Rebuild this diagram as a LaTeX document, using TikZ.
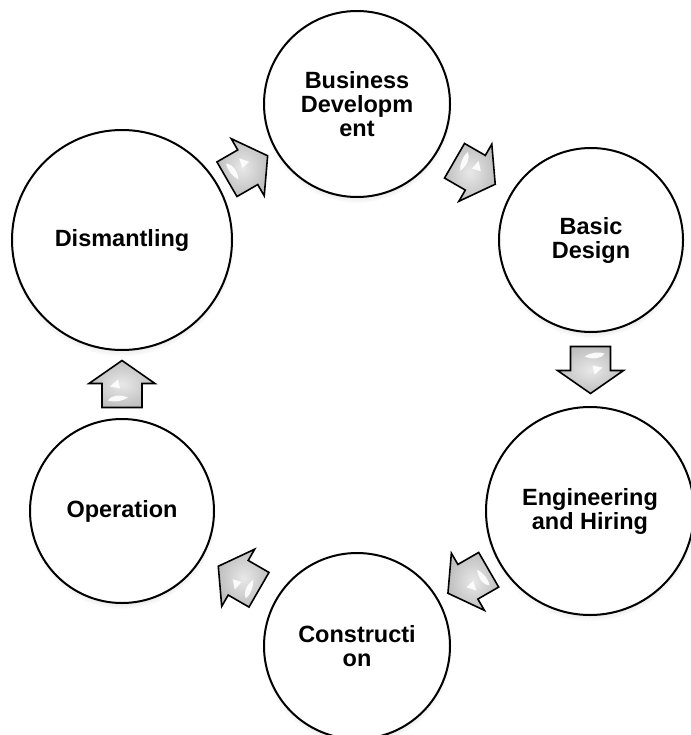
\documentclass[tikz,border=0pt]{standalone}
\usepackage{fontspec}
\setmainfont{Liberation Sans}
\usetikzlibrary{calc,shadows,fadings}
\tikzset{
  stage/.style={circle, draw=black, line width=2pt, fill=white, inner sep=0pt,
    align=center, font=\bfseries\fontsize{23.5}{24}\selectfont,
    circular drop shadow={shadow scale=1.02, shadow xshift=0pt, shadow yshift=-4pt, opacity=0.35}},
  arrowbody/.style={draw=black, line width=1.6pt, line join=miter,
    inner color=gray!18, outer color=gray!50},
  glint/.style={fill=white, draw=none, opacity=0.9},
  blockarrow/.pic={
    \path[arrowbody] (-23,-20) -- (1,-20) -- (1,-33) -- (24,0) -- (1,33) -- (1,20) -- (-23,20) -- cycle;
    \path[glint] (-16,-14) .. controls (-10,-10) and (-10,-2) .. (-13,6) .. controls (-17,0) and (-18,-8) .. cycle;
    \path[glint] (-2,-12) -- (5,-4) -- (-4,-2) -- cycle;
  }
}
\begin{document}
\begin{tikzpicture}[x=1pt,y=-1pt]
\path[use as bounding box, fill=white] (0,0) rectangle (690,735);

\node[stage, minimum size=186pt] (bus) at (357,104) {Business\\Developm\\ent};
\node[stage, minimum size=184pt] (bas) at (591,240) {Basic\\Design};
\node[stage, minimum size=208pt] (eng) at (590,511) {Engineering\\and Hiring};
\node[stage, minimum size=186pt] (con) at (357,646) {Constructi\\on};
\node[stage, minimum size=184pt] (op)  at (122,511) {Operation};
\node[stage, minimum size=220pt] (dis) at (122,240) {Dismantling};

\coordinate (a1) at ($(dis.30)!0.5!(bus.210)$);
\coordinate (a2) at ($(bus.-30)!0.5!(bas.150)$);
\coordinate (a3) at ($(bas.south)!0.5!(eng.north)$);
\coordinate (a4) at ($(eng.210)!0.5!(con.30)$);
\coordinate (a5) at ($(con.150)!0.5!(op.-30)$);
\coordinate (a6) at ($(op.north)!0.5!(dis.south)$);

\pic[rotate=30]  at (a1) {blockarrow};
\pic[rotate=-30] at (a2) {blockarrow};
\pic[rotate=-90] at (a3) {blockarrow};
\pic[rotate=210] at (a4) {blockarrow};
\pic[rotate=150] at (a5) {blockarrow};
\pic[rotate=90]  at (a6) {blockarrow};
\end{tikzpicture}
\end{document}
